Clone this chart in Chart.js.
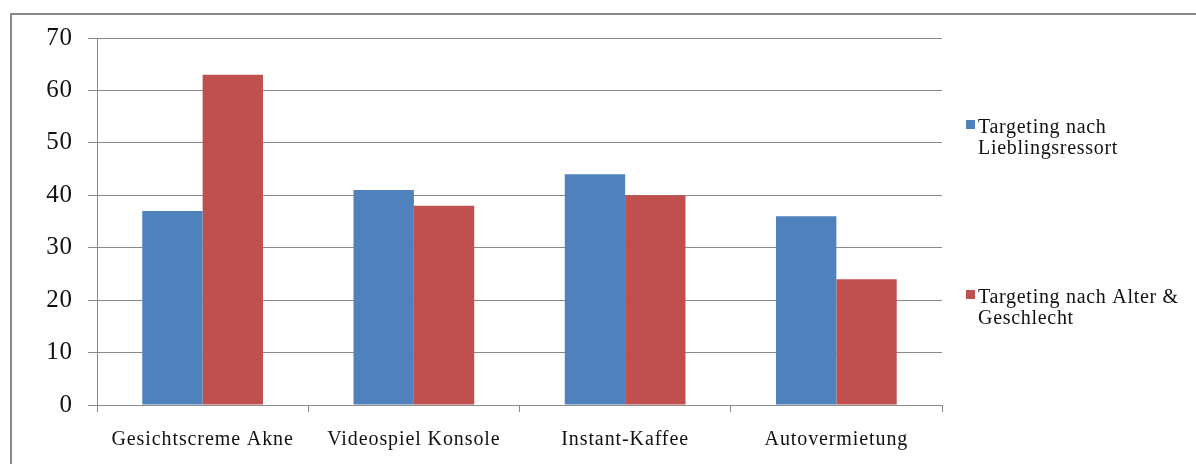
<!DOCTYPE html>
<html>
<head>
<meta charset="utf-8">
<script src="https://cdn.jsdelivr.net/npm/chart.js@4/dist/chart.umd.min.js"></script>
<style>
  html, body { margin: 0; padding: 0; background: #fff; overflow: hidden; }
  #wrap { position: relative; width: 1196px; height: 464px; }
  #frame {
    position: absolute; left: 10px; top: 13px;
    width: 1300px; height: 600px;
    border: 2px solid #8a8a8a; box-sizing: border-box;
  }
  canvas { position: absolute; left: 0; top: 0; }
</style>
</head>
<body>
<div id="wrap">
  <div id="frame"></div>
  <canvas id="chart" width="1196" height="464"></canvas>
</div>
<script>
// Kategorien und Werte
const categories = ["Gesichtscreme Akne", "Videospiel Konsole", "Instant-Kaffee", "Autovermietung"];
const seriesNames = [
  ["Targeting nach", "Lieblingsressort"],
  ["Targeting nach Alter &", "Geschlecht"]
];
const lieblingsressort = [37, 41, 44, 36];
const alterGeschlecht = [63, 38, 40, 24];
const yTicks = [0, 10, 20, 30, 40, 50, 60, 70];

const blau = "#4F81BD";
const rot = "#C0504D";
const gitter = "#8a8a8a";
const serif = "'Liberation Serif', 'Times New Roman', serif";

// etwas weiter gesperrte Schrift für alle Beschriftungen
const sperrung = {
  id: "sperrung",
  beforeDraw(chart) { chart.ctx.letterSpacing = "0.9px"; }
};

// Legende rechts neben dem Diagramm, zweizeilige Einträge
const seitenLegende = {
  id: "seitenLegende",
  afterDraw(chart) {
    const ctx = chart.ctx;
    const x0 = chart.chartArea.right + 24;
    const tops = [120, 290];
    ctx.save();
    ctx.font = "20px " + serif;
    ctx.letterSpacing = "0.7px";
    ctx.textBaseline = "alphabetic";
    chart.data.datasets.forEach((ds, i) => {
      const y = tops[i];
      ctx.fillStyle = ds.backgroundColor;
      ctx.fillRect(x0, y, 9, 9);
      ctx.fillStyle = "#111";
      ds.legendLines.forEach((line, j) => {
        ctx.fillText(line, x0 + 12, y + 13 + j * 21);
      });
    });
    ctx.restore();
  }
};

const ctx = document.getElementById("chart").getContext("2d");
new Chart(ctx, {
  type: "bar",
  data: {
    labels: categories,
    datasets: [
      { label: seriesNames[0].join(" "), legendLines: seriesNames[0], data: lieblingsressort, backgroundColor: blau },
      { label: seriesNames[1].join(" "), legendLines: seriesNames[1], data: alterGeschlecht, backgroundColor: rot }
    ]
  },
  options: {
    responsive: false,
    animation: false,
    devicePixelRatio: 1,
    layout: { padding: { top: 38, right: 254, bottom: 0, left: 0 } },
    plugins: {
      legend: { display: false },
      tooltip: { enabled: false }
    },
    datasets: {
      bar: { barPercentage: 1, categoryPercentage: 2 / 3.5 }
    },
    scales: {
      x: {
        afterFit(scale) { scale.height = 59; },
        grid: { offset: true, drawOnChartArea: false, drawTicks: true, tickLength: 7, color: gitter },
        border: { display: true, color: gitter },
        ticks: { color: "#111", font: { family: serif, size: 20 }, padding: 16, maxRotation: 0 }
      },
      y: {
        min: 0,
        max: 70,
        afterFit(scale) { scale.width = 97; },
        afterBuildTicks(scale) { scale.ticks = yTicks.map(v => ({ value: v })); },
        grid: { color: gitter, tickLength: 9 },
        border: { display: true, color: gitter },
        ticks: { color: "#111", font: { family: serif, size: 25 }, padding: 15 }
      }
    }
  },
  plugins: [sperrung, seitenLegende]
});
</script>
</body>
</html>
